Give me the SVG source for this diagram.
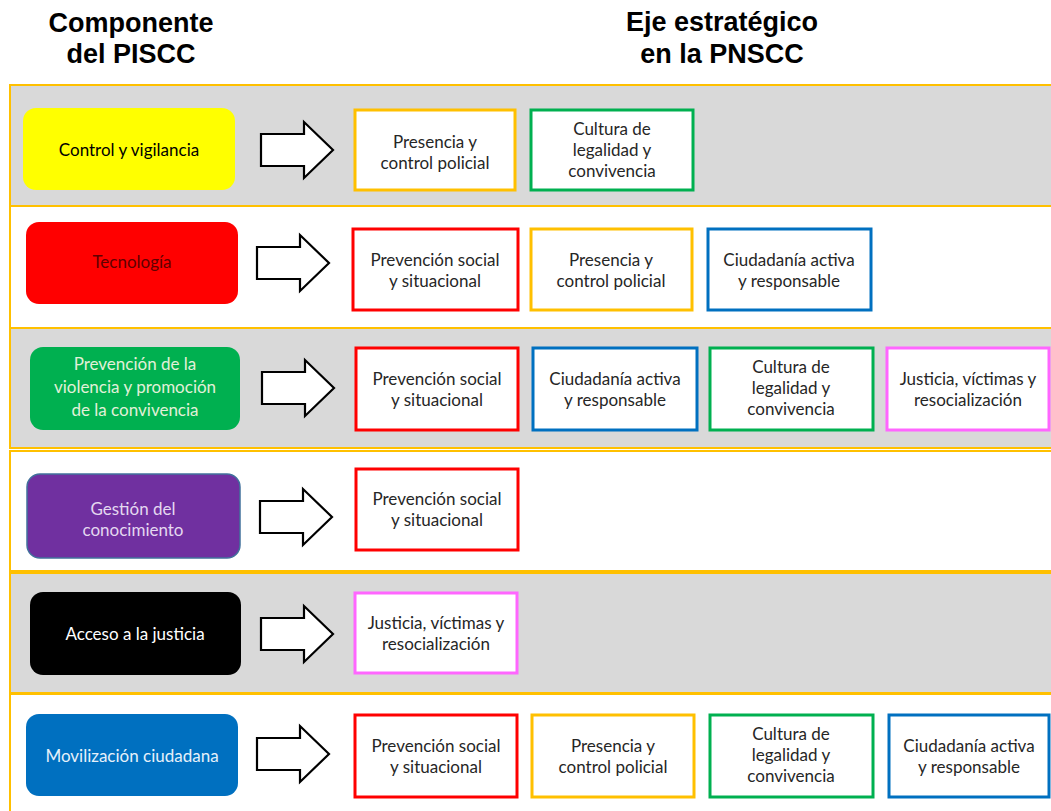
<svg xmlns="http://www.w3.org/2000/svg" xmlns:xlink="http://www.w3.org/1999/xlink" width="1051" height="811" viewBox="0 0 1051 811">
<style>
.hdr{font-family:"Liberation Sans",Arial,sans-serif;font-weight:bold;font-size:27px;fill:#000;text-anchor:middle}
.band{stroke:#FFC000;stroke-width:2}
.gray{fill:#D9D9D9}
.white{fill:#FFFFFF}
.comp{stroke:none}
.ctxt{font-family:Lato,"Open Sans",sans-serif;font-size:17px;text-anchor:middle}
.eje{fill:#FFFFFF;stroke-width:3}
.etxt{font-family:Lato,"Open Sans",sans-serif;font-size:17px;fill:#262626;text-anchor:middle}
.r{stroke:#FF0000}.y{stroke:#FFC000}.g{stroke:#00B050}.b{stroke:#0070C0}.p{stroke:#FF66FF}
.arrow{fill:#FFFFFF;stroke:#000;stroke-width:2.2;stroke-linejoin:miter}
</style>
<defs>
<path id="blk" class="arrow" d="M0,-16 H43 V-28 L72,0 L43,28 V16 H0 Z"/>
</defs>
<rect width="1051" height="811" fill="#FFFFFF"/>
<g id="headers">
<text class="hdr" x="131" y="32">Componente</text>
<text class="hdr" x="131" y="63">del PISCC</text>
<text class="hdr" x="722" y="31">Eje estratégico</text>
<text class="hdr" x="722" y="63">en la PNSCC</text>
</g>
<g id="bands">
<rect class="band gray" x="10" y="85" width="1050" height="121"/>
<rect class="band white" x="10" y="206" width="1050" height="122"/>
<rect class="band gray" x="10" y="328" width="1050" height="120"/>
<rect class="band white" x="10" y="451" width="1050" height="120"/>
<rect class="band gray" x="10" y="573" width="1050" height="120"/>
<rect class="band white" x="10" y="694" width="1050" height="130"/>
</g>
<g id="connectors">
<use xlink:href="#blk" href="#blk" x="261" y="150"/>
<use xlink:href="#blk" href="#blk" x="257" y="263"/>
<use xlink:href="#blk" href="#blk" x="262" y="388"/>
<use xlink:href="#blk" href="#blk" x="260" y="517"/>
<use xlink:href="#blk" href="#blk" x="261" y="634"/>
<use xlink:href="#blk" href="#blk" x="257" y="754"/>
</g>
<g id="comp-control">
<rect class="comp" x="23" y="108" width="212" height="82" rx="13" fill="#FFFF00"/>
<text class="ctxt" x="129" y="156" fill="#000">Control y vigilancia</text>
</g>
<g id="comp-tecnologia">
<rect class="comp" x="26" y="222" width="212" height="82" rx="13" fill="#FF0000"/>
<text class="ctxt" x="132" y="268" fill="#600000">Tecnología</text>
</g>
<g id="comp-prevencion">
<rect class="comp" x="30" y="347" width="210" height="83" rx="13" fill="#00B050"/>
<text class="ctxt" x="135" y="370" fill="#E2F0D9">Prevención de la</text>
<text class="ctxt" x="135" y="393" fill="#E2F0D9">violencia y promoción</text>
<text class="ctxt" x="135" y="416" fill="#E2F0D9">de la convivencia</text>
</g>
<g id="comp-gestion">
<rect x="27" y="474" width="213" height="84" rx="13" fill="#7030A0" stroke="#41719C" stroke-width="1.5"/>
<text class="ctxt" x="133" y="515" fill="#E4D8F0">Gestión del</text>
<text class="ctxt" x="133" y="536" fill="#E4D8F0">conocimiento</text>
</g>
<g id="comp-acceso">
<rect class="comp" x="30" y="592" width="211" height="83" rx="13" fill="#000000"/>
<text class="ctxt" x="135" y="640" fill="#FFFFFF">Acceso a la justicia</text>
</g>
<g id="comp-movilizacion">
<rect class="comp" x="26" y="714" width="212" height="82" rx="13" fill="#0070C0"/>
<text class="ctxt" x="132" y="762" fill="#E6F0FA">Movilización ciudadana</text>
</g>
<!-- Row 1 -->
<g id="r1-presencia">
<rect class="eje y" x="355" y="110" width="160" height="80"/>
<text class="etxt" x="435" y="148">Presencia y</text>
<text class="etxt" x="435" y="169">control policial</text>
</g>
<g id="r1-cultura">
<rect class="eje g" x="531" y="110" width="162" height="80"/>
<text class="etxt" x="612" y="135">Cultura de</text>
<text class="etxt" x="612" y="156">legalidad y</text>
<text class="etxt" x="612" y="177">convivencia</text>
</g>
<!-- Row 2 -->
<g id="r2-prevencion">
<rect class="eje r" x="353" y="229" width="165" height="81"/>
<text class="etxt" x="435" y="266">Prevención social</text>
<text class="etxt" x="435" y="287">y situacional</text>
</g>
<g id="r2-presencia">
<rect class="eje y" x="531" y="229" width="161" height="81"/>
<text class="etxt" x="611" y="266">Presencia y</text>
<text class="etxt" x="611" y="287">control policial</text>
</g>
<g id="r2-ciudadania">
<rect class="eje b" x="708" y="229" width="163" height="81"/>
<text class="etxt" x="789" y="266">Ciudadanía activa</text>
<text class="etxt" x="789" y="287">y responsable</text>
</g>
<!-- Row 3 -->
<g id="r3-prevencion">
<rect class="eje r" x="356" y="348" width="162" height="82"/>
<text class="etxt" x="437" y="385">Prevención social</text>
<text class="etxt" x="437" y="406">y situacional</text>
</g>
<g id="r3-ciudadania">
<rect class="eje b" x="533" y="348" width="164" height="82"/>
<text class="etxt" x="615" y="385">Ciudadanía activa</text>
<text class="etxt" x="615" y="406">y responsable</text>
</g>
<g id="r3-cultura">
<rect class="eje g" x="710" y="348" width="163" height="82"/>
<text class="etxt" x="791" y="373">Cultura de</text>
<text class="etxt" x="791" y="394">legalidad y</text>
<text class="etxt" x="791" y="415">convivencia</text>
</g>
<g id="r3-justicia">
<rect class="eje p" x="887" y="348" width="162" height="82"/>
<text class="etxt" x="968" y="385">Justicia, víctimas y</text>
<text class="etxt" x="968" y="406">resocialización</text>
</g>
<!-- Row 4 -->
<g id="r4-prevencion">
<rect class="eje r" x="356" y="469" width="162" height="81"/>
<text class="etxt" x="437" y="505">Prevención social</text>
<text class="etxt" x="437" y="526">y situacional</text>
</g>
<!-- Row 5 -->
<g id="r5-justicia">
<rect class="eje p" x="355" y="593" width="162" height="80"/>
<text class="etxt" x="436" y="629">Justicia, víctimas y</text>
<text class="etxt" x="436" y="650">resocialización</text>
</g>
<!-- Row 6 -->
<g id="r6-prevencion">
<rect class="eje r" x="355" y="715" width="162" height="82"/>
<text class="etxt" x="436" y="752">Prevención social</text>
<text class="etxt" x="436" y="773">y situacional</text>
</g>
<g id="r6-presencia">
<rect class="eje y" x="532" y="715" width="162" height="82"/>
<text class="etxt" x="613" y="752">Presencia y</text>
<text class="etxt" x="613" y="773">control policial</text>
</g>
<g id="r6-cultura">
<rect class="eje g" x="710" y="715" width="163" height="82"/>
<text class="etxt" x="791" y="740">Cultura de</text>
<text class="etxt" x="791" y="761">legalidad y</text>
<text class="etxt" x="791" y="782">convivencia</text>
</g>
<g id="r6-ciudadania">
<rect class="eje b" x="889" y="715" width="160" height="82"/>
<text class="etxt" x="969" y="752">Ciudadanía activa</text>
<text class="etxt" x="969" y="773">y responsable</text>
</g>
</svg>
